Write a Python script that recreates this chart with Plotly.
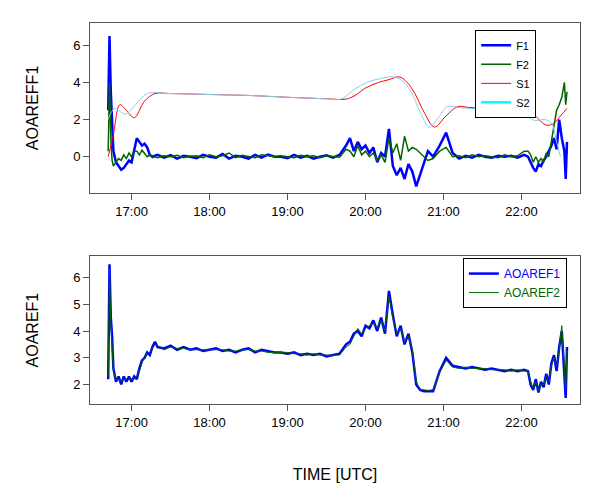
import plotly.graph_objects as go
from plotly.subplots import make_subplots

# time in minutes after 16:00 UTC
t_a = [42, 43, 44, 45, 46, 48, 50, 52, 54, 56, 58, 60, 62, 64, 66, 68, 70, 72, 74, 76, 78]
t_b = list(range(80, 226, 5))
t_c = list(range(228, 289, 3))
t_d = list(range(292, 363, 5))
t_e = [365, 367, 369, 371, 373, 375, 377, 379, 381, 383, 385, 387, 389, 391, 393, 394, 395]
t_f = t_a + t_b + t_c + t_d + t_e

f1 = ([2.5, 6.5, 3.5, 1.5, 0.3, -0.3, -0.5, -0.7, -0.6, -0.4, -0.2, -0.3, 0.4, 1.0, 0.8, 0.6, 0.7, 0.5, 0.1, 0.0, 0.05]
      + [0.1, -0.05, 0.08, -0.1, 0.05, 0.0, -0.08, 0.1, 0.0, -0.05, 0.15, -0.1, 0.05, 0.0, -0.1, 0.1, -0.05, 0.12, 0.0,
         0.0, -0.08, 0.1, -0.05, 0.05, -0.1, 0.0, 0.08, -0.05, 0.1, 0.6]
      + [1.0, 0.3, 0.8, 0.4, 0.6, 0.2, 0.5, -0.3, 0.2, 0.0, 1.5, -0.5, -1.0, -0.6, -1.2, -0.4, -0.8, -1.6, -1.0, -0.3, 0.3]
      + [0.0, 0.6, 1.3, 0.2, -0.1, 0.05, -0.05, 0.1, 0.0, -0.05, 0.05, 0.0, 0.05, -0.05, 0.1]
      + [0.0, -0.3, -0.6, -0.8, -0.4, -0.5, -0.2, 0.0, 0.3, 0.6, 1.0, 0.4, 2.0, 1.0, 0.3, -1.2, 0.8])
f2 = ([0.3, 4.0, 1.0, -0.2, -0.5, -0.3, -0.1, -0.2, 0.1, -0.1, 0.2, 0.0, 0.3, 0.3, 0.1, 0.35, 0.2, 0.0, 0.1, -0.05, 0.0]
      + [-0.05, 0.05, 0.0, 0.08, -0.05, 0.03, 0.05, -0.05, 0.1, 0.0, 0.05, 0.2, -0.05, 0.08, 0.0, -0.05, 0.1, 0.05, 0.0,
         0.05, 0.0, -0.05, 0.08, 0.0, 0.05, -0.05, 0.05, 0.0, -0.03, 0.4]
      + [0.3, 0.0, 0.6, 0.1, 0.3, 0.0, 0.2, -0.2, 0.1, -0.3, 1.0, 0.2, 0.7, -0.2, 1.1, 0.3, 0.5, 0.4, 0.2, 0.0, -0.2]
      + [-0.1, 0.3, 0.5, 0.0, 0.05, -0.05, 0.1, 0.0, 0.05, 0.0, -0.05, 0.1, 0.0, 0.05, 0.3]
      + [0.3, 0.1, -0.3, 0.0, -0.3, -0.1, -0.3, 0.2, 0.0, 0.8, 1.5, 2.5, 2.8, 3.2, 4.0, 2.8, 3.5])

aoa1 = ([2.2, 6.5, 4.5, 3.8, 2.6, 2.1, 2.3, 2.0, 2.3, 2.1, 2.3, 2.1, 2.3, 2.2, 2.6, 2.9, 3.0, 3.2, 3.1, 3.4, 3.6]
        + [3.4, 3.35, 3.45, 3.3, 3.4, 3.3, 3.35, 3.25, 3.3, 3.35, 3.25, 3.3, 3.2, 3.3, 3.35, 3.2, 3.3, 3.25, 3.2,
           3.2, 3.15, 3.2, 3.1, 3.15, 3.1, 3.15, 3.05, 3.1, 3.15, 3.5]
        + [3.6, 3.9, 4.0, 3.8, 4.2, 4.1, 4.4, 4.0, 4.5, 3.9, 5.5, 4.6, 3.8, 4.2, 3.5, 3.9, 3.2, 2.0, 1.8, 1.75, 1.75]
        + [1.75, 2.5, 3.0, 2.7, 2.65, 2.6, 2.65, 2.6, 2.55, 2.6, 2.55, 2.5, 2.55, 2.5, 2.55]
        + [2.5, 2.0, 1.8, 2.2, 1.7, 2.1, 1.9, 2.4, 2.0, 2.8, 3.1, 2.5, 3.4, 4.0, 2.6, 1.5, 3.4])
aoa2 = ([2.3, 6.3, 4.3, 3.6, 2.5, 2.2, 2.2, 2.1, 2.2, 2.2, 2.2, 2.2, 2.2, 2.3, 2.5, 2.8, 3.05, 3.15, 3.2, 3.35, 3.5]
        + [3.45, 3.3, 3.4, 3.35, 3.35, 3.3, 3.3, 3.3, 3.3, 3.3, 3.3, 3.25, 3.25, 3.3, 3.3, 3.25, 3.25, 3.2, 3.2,
           3.2, 3.2, 3.15, 3.15, 3.1, 3.15, 3.1, 3.1, 3.1, 3.1, 3.4]
        + [3.5, 3.8, 4.1, 3.9, 4.1, 4.2, 4.3, 4.1, 4.4, 4.0, 5.3, 4.5, 3.9, 4.1, 3.6, 3.8, 3.3, 2.1, 1.8, 1.8, 1.78]
        + [1.8, 2.45, 2.9, 2.65, 2.6, 2.65, 2.6, 2.6, 2.6, 2.55, 2.55, 2.55, 2.5, 2.55, 2.5]
        + [2.5, 2.1, 1.85, 2.1, 1.75, 2.0, 2.0, 2.3, 2.1, 2.7, 3.0, 2.7, 3.3, 4.2, 2.8, 1.8, 3.3])

t_s1 = [42, 46, 51, 56, 62, 70, 78, 90, 120, 150, 180, 210, 225, 232, 240, 250, 258, 266, 272, 278, 285, 293,
        302, 311, 320, 360, 366, 372, 379, 385, 390, 395]
s1 = [0.0, 1.2, 2.8, 2.5, 2.1, 3.0, 3.4, 3.4, 3.35, 3.3, 3.2, 3.12, 3.1, 3.3, 3.7, 4.0, 4.15, 4.3, 4.0, 3.4, 2.4, 1.6,
      2.2, 2.7, 2.65, 2.55, 2.5, 2.1, 1.7, 1.8, 2.2, 2.6]
t_s2 = [42, 47, 55, 63, 72, 90, 120, 150, 180, 210, 221, 231, 241, 251, 261, 268, 275, 282, 289, 296, 303, 312,
        320, 355, 362, 370, 378, 383, 387, 390]
s2 = [2.0, 2.6, 2.3, 2.8, 3.4, 3.4, 3.35, 3.3, 3.2, 3.12, 3.1, 3.6, 4.0, 4.2, 4.3, 4.1, 3.5, 2.4, 1.6, 2.1, 2.7, 2.65,
      2.6, 2.55, 2.3, 1.95, 2.0, 1.8, 0.8, 0.0]

tick_vals = [60, 120, 180, 240, 300, 360]
tick_text = ["17:00", "18:00", "19:00", "20:00", "21:00", "22:00"]

fig = make_subplots(rows=2, cols=1)

fig.add_trace(go.Scatter(x=t_f, y=f1, name="F1", mode="lines", line=dict(color="blue", width=2.5)), row=1, col=1)
fig.add_trace(go.Scatter(x=t_f, y=f2, name="F2", mode="lines", line=dict(color="darkgreen", width=1.5)), row=1, col=1)
fig.add_trace(go.Scatter(x=t_s1, y=s1, name="S1", mode="lines", line=dict(color="red", width=1, shape="spline")),
              row=1, col=1)
fig.add_trace(go.Scatter(x=t_s2, y=s2, name="S2", mode="lines", showlegend=False,
                         line=dict(color="#87CEEB", width=1, shape="spline")), row=1, col=1)
fig.add_trace(go.Scatter(x=[None], y=[None], name="S2", mode="lines", line=dict(color="cyan", width=2.5)),
              row=1, col=1)

fig.add_trace(go.Scatter(x=t_f, y=aoa1, name="<span style='color:blue'>AOAREF1</span>", mode="lines",
                         line=dict(color="blue", width=2.5), legend="legend2"), row=2, col=1)
fig.add_trace(go.Scatter(x=t_f, y=aoa2, name="<span style='color:darkgreen'>AOAREF2</span>", mode="lines",
                         line=dict(color="darkgreen", width=1), legend="legend2"), row=2, col=1)

axis_style = dict(showline=True, linecolor="#555", linewidth=1, mirror=True, ticks="outside", ticklen=6,
                  tickcolor="#555", showgrid=False, zeroline=False, automargin=False)
fig.update_xaxes(axis_style, range=[28, 405], tickvals=tick_vals, ticktext=tick_text)
fig.update_yaxes(axis_style, title_standoff=30)
fig.update_yaxes(domain=[0.554, 1], range=[-1.95, 7.2], tickvals=[0, 2, 4, 6], title_text="AOAREFF1", row=1, col=1)
fig.update_yaxes(domain=[0, 0.388], range=[1.27, 6.8], tickvals=[2, 3, 4, 5, 6], title_text="AOAREF1", row=2, col=1)
fig.update_xaxes(title_text="TIME [UTC]", title_standoff=40, row=2, col=1)

fig.update_layout(
    width=600, height=500,
    margin=dict(l=82, r=28, t=15, b=104),
    paper_bgcolor="white", plot_bgcolor="white",
    font=dict(family="Liberation Sans", size=13, color="black"),
    legend=dict(x=0.786, y=0.982, xanchor="left", yanchor="top", bordercolor="black", borderwidth=1,
                font=dict(size=11), tracegroupgap=0),
    legend2=dict(x=0.761, y=0.383, xanchor="left", yanchor="top", bordercolor="black", borderwidth=1,
                 font=dict(size=12)),
)

fig.write_html("out.html")
